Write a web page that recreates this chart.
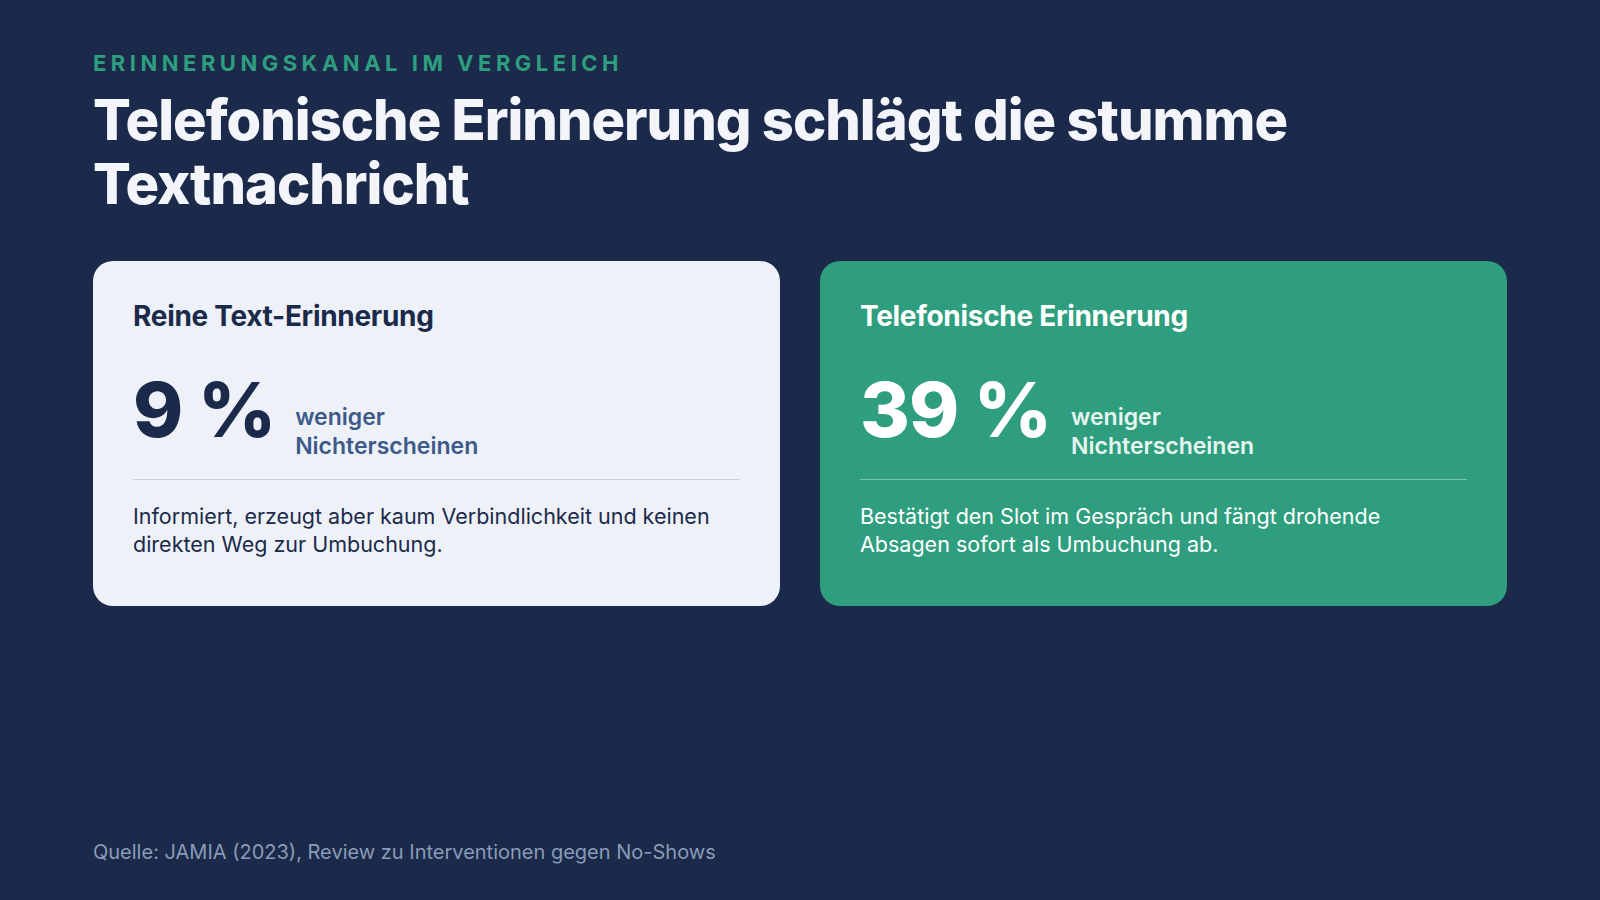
<!DOCTYPE html>
<html lang="de">
<head>
<meta charset="utf-8">
<script src="https://cdn.jsdelivr.net/npm/chart.js@4"></script>
<style>
  html, body { margin: 0; width: 1600px; height: 900px; background: #1b2a4a; font-family: Inter, "Noto Sans", sans-serif; overflow: hidden; }
  .eyebrow { position: absolute; left: 93px; top: 50px; font-size: 22px; font-weight: 700; letter-spacing: 4.5px; color: #2e9e7e; }
  h1 { position: absolute; left: 93px; top: 88px; margin: 0; font-size: 56px; line-height: 64px; font-weight: 800; color: #f3f5fa; letter-spacing: -1px; width: 1420px; }
  .card { position: absolute; top: 261px; width: 687px; height: 345px; border-radius: 20px; box-sizing: border-box; padding: 38px 40px; }
  .card h2 { margin: 0; font-size: 28px; font-weight: 700; letter-spacing: -0.3px; }
  .row { display: flex; align-items: flex-end; margin-top: 26px; height: 90px; }
  .big { font-size: 76px; font-weight: 800; line-height: 80px; letter-spacing: -1px; }
  .side { font-size: 23px; font-weight: 600; line-height: 29px; margin-left: 20px; margin-bottom: -12px; }
  hr { border: 0; border-top: 1px solid; margin: 30px 0 22px; }
  .desc { font-size: 21.5px; line-height: 28px; }
  .light { left: 93px; background: #eef2f8; color: #1b2a4a; }
  .light .side { color: #3d5a8a; }
  .light hr { border-color: #c8ceda; }
  .green { left: 820px; background: #2e9e7e; color: #ffffff; }
  .green .side { color: #e6f5ef; }
  .green hr { border-color: #7cc4ad; }
  .foot { position: absolute; left: 93px; top: 840px; font-size: 20px; color: #8a9bb8; }
</style>
</head>
<body>
<div class="eyebrow" id="eyebrow"></div>
<h1 id="title"></h1>
<div id="cards"></div>
<div class="foot" id="foot"></div>
<script>
const eyebrow = "ERINNERUNGSKANAL IM VERGLEICH";
const title = "Telefonische Erinnerung schlägt die stumme Textnachricht";
const channels = ["Reine Text-Erinnerung", "Telefonische Erinnerung"];
const reduction = [9, 39];
const descriptions = [
  "Informiert, erzeugt aber kaum Verbindlichkeit und keinen direkten Weg zur Umbuchung.",
  "Bestätigt den Slot im Gespräch und fängt drohende Absagen sofort als Umbuchung ab."
];
const source = "Quelle: JAMIA (2023), Review zu Interventionen gegen No-Shows";

document.getElementById("eyebrow").textContent = eyebrow;
document.getElementById("title").textContent = title;
document.getElementById("foot").textContent = source;

const wrap = document.getElementById("cards");
channels.forEach((c, i) => {
  const d = document.createElement("div");
  d.className = "card " + (i === 0 ? "light" : "green");
  d.innerHTML = `
    <h2>${c}</h2>
    <div class="row"><div class="big">${reduction[i]} %</div><div class="side">weniger<br>Nichterscheinen</div></div>
    <hr>
    <div class="desc">${descriptions[i]}</div>`;
  wrap.appendChild(d);
});
</script>
</body>
</html>
